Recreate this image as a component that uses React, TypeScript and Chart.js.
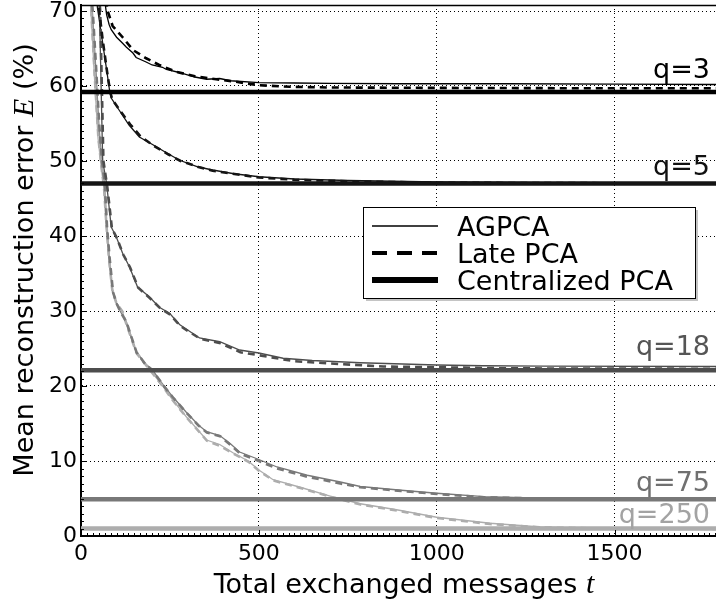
import { useEffect, useRef } from "react";
import { Chart, registerables } from "chart.js";

Chart.register(...registerables);

// ---------- data ----------
const xTickValues = [0, 500, 1000, 1500];
const yTickValues = [0, 10, 20, 30, 40, 50, 60, 70];
const X_MIN = 0;
const X_MAX = 1785;
const Y_MIN = 0;
const Y_MAX = 70.8;

const qNames = ["q=3", "q=5", "q=18", "q=75", "q=250"];
const centralizedValues = [59.2, 47.0, 22.1, 4.9, 1.0];
const legendLabels = ["AGPCA", "Late PCA", "Centralized PCA"];

const q3AgT = [65, 72, 79, 85, 100, 117, 127, 146, 155, 183, 200, 229, 240, 276, 320, 353, 390, 420, 500, 600, 700, 900, 1200, 1500, 1785];
const q3AgV = [72, 69.5, 68.2, 67.5, 66.5, 65.7, 65.2, 64.4, 63.8, 63.2, 62.8, 62.5, 62.2, 61.8, 61.2, 60.9, 61.0, 60.7, 60.45, 60.4, 60.35, 60.3, 60.3, 60.25, 60.2];
const q3LtT = [70, 75, 89, 117, 146, 183, 220, 267, 320, 380, 430, 500, 588, 700, 1000, 1400, 1785];
const q3LtV = [71.5, 70, 68, 66.5, 64.8, 63.7, 62.8, 61.9, 61.3, 60.9, 60.6, 60.1, 59.9, 59.8, 59.75, 59.7, 59.7];

const q5AgT = [44, 46, 57, 71, 80, 85, 107, 135, 164, 201, 240, 277, 330, 370, 430, 500, 600, 750, 1000, 1300, 1785];
const q5AgV = [72, 70.5, 67, 62.5, 59.5, 58.4, 56.8, 54.8, 53.2, 52.2, 51.1, 50.1, 49.2, 48.8, 48.3, 47.9, 47.6, 47.4, 47.2, 47.1, 47.05];
const q5LtT = [46, 50, 60, 73, 82, 88, 110, 138, 167, 205, 245, 280, 330, 370, 500, 600, 750, 1000, 1785];
const q5LtV = [72, 70.5, 66.5, 62, 59.2, 58.2, 56.7, 54.9, 53.3, 52, 50.9, 50, 49.2, 48.7, 47.8, 47.5, 47.3, 47.1, 47.0];

const q18AgT = [46, 52, 61, 72, 85, 99, 117, 136, 159, 192, 220, 249, 277, 333, 390, 446, 500, 568, 650, 785, 1000, 1130, 1300, 1785];
const q18AgV = [74, 70, 50, 47, 41.2, 39.9, 37.7, 35.9, 33.2, 31.9, 30.5, 29.7, 28.2, 26.4, 25.9, 24.8, 24.4, 23.7, 23.4, 23.1, 22.8, 22.7, 22.65, 22.6];
const q18LtT = [48, 54, 63, 74, 87, 101, 119, 138, 161, 194, 222, 251, 279, 335, 392, 448, 500, 600, 700, 850, 1000, 1200, 1785];
const q18LtV = [74, 70, 50, 46.5, 41, 39.7, 37.5, 35.8, 33.1, 31.7, 30.4, 29.5, 28.0, 26.3, 25.7, 24.5, 24.1, 23.3, 23.0, 22.6, 22.5, 22.35, 22.3];

const q75AgT = [25, 32, 42, 50, 58, 66, 72, 80, 89, 100, 110, 127, 155, 180, 200, 230, 257, 296, 330, 353, 390, 420, 446, 500, 551, 636, 729, 785, 900, 1000, 1133, 1300, 1785];
const q75AgV = [74, 70, 62, 55, 50, 47, 41.5, 37, 32.6, 31, 30, 28.6, 24.6, 23, 22.2, 20.2, 18.6, 16.5, 14.8, 13.9, 13.4, 12.3, 11.2, 10.2, 9.2, 8.1, 7.2, 6.6, 6.1, 5.7, 5.25, 5.05, 5.0];
const q75LtT = [26, 33, 43, 51, 59, 67, 73, 81, 90, 101, 111, 128, 156, 181, 201, 231, 258, 297, 331, 354, 391, 421, 447, 500, 551, 636, 729, 785, 900, 1000, 1133, 1300, 1785];
const q75LtV = [74, 70, 62, 55, 50, 47, 41.3, 36.8, 32.5, 30.9, 29.9, 28.5, 24.5, 22.9, 22.1, 20.1, 18.5, 16.4, 14.7, 13.8, 13.3, 12.1, 11.0, 10.0, 9.0, 7.9, 7.0, 6.5, 6.0, 5.6, 5.15, 5.0, 4.95];

const q250AgT = [20, 28, 38, 48, 56, 64, 70, 78, 87, 98, 116, 127, 155, 180, 200, 230, 257, 296, 353, 390, 427, 470, 500, 540, 616, 710, 785, 887, 1000, 1150, 1291, 1400, 1506, 1785];
const q250AgV = [75, 70, 61, 53, 49.5, 46.5, 42, 37, 33, 31.2, 30, 28.3, 24.6, 23, 21.8, 20, 18.2, 15.9, 12.8, 12.2, 11.1, 10, 8.8, 7.5, 6.5, 5.2, 4.3, 3.5, 2.5, 1.7, 1.2, 1.05, 1.0, 0.95];
const q250LtT = [21, 29, 39, 49, 57, 65, 71, 79, 88, 99, 117, 128, 156, 181, 201, 231, 258, 297, 354, 391, 428, 471, 500, 541, 617, 711, 786, 888, 1000, 1150, 1291, 1400, 1506, 1785];
const q250LtV = [75, 70, 61, 53, 49.5, 46.3, 41.8, 36.8, 32.8, 31.1, 29.9, 28.2, 24.4, 22.9, 21.7, 19.9, 18.1, 15.8, 12.7, 12.0, 11.0, 9.9, 8.7, 7.4, 6.4, 5.1, 4.2, 3.4, 2.4, 1.6, 1.15, 1.05, 1.0, 0.95];

const agpcaT = [q3AgT, q5AgT, q18AgT, q75AgT, q250AgT];
const agpcaV = [q3AgV, q5AgV, q18AgV, q75AgV, q250AgV];
const lateT = [q3LtT, q5LtT, q18LtT, q75LtT, q250LtT];
const lateV = [q3LtV, q5LtV, q18LtV, q75LtV, q250LtV];

// ---------- styles ----------
const lineColors = ["#000000", "#141414", "#4d4d4d", "#787878", "#adadad"];
const labelColors = ["#000000", "#111111", "#555555", "#707070", "#a3a3a3"];
const labelOffsets = [14, 9, 15, 8, 6];
const SANS = "'DejaVu Sans', sans-serif";
const SERIF_IT = "italic 30px 'Liberation Serif', serif";

function zip(t: number[], v: number[]) {
  return t.map((x, i) => ({ x, y: v[i] }));
}

const overlayPlugin = {
  id: "overlay",
  afterDraw(chart: any) {
    const ctx: CanvasRenderingContext2D = chart.ctx;
    const area = chart.chartArea;
    const xs = chart.scales.x;
    const ys = chart.scales.y;
    ctx.save();

    // top spine
    ctx.strokeStyle = "#000";
    ctx.lineWidth = 1.5;
    ctx.beginPath();
    ctx.moveTo(area.left, area.top + 0.5);
    ctx.lineTo(area.right, area.top + 0.5);
    ctx.stroke();

    // inward ticks
    ctx.lineWidth = 1;
    ctx.beginPath();
    for (let k = 0; k * 500 / 30 <= X_MAX; k++) {
      const px = Math.round(xs.getPixelForValue(k * 500 / 30)) + 0.5;
      const len = k % 30 === 0 ? 6 : 3;
      ctx.moveTo(px, area.bottom);
      ctx.lineTo(px, area.bottom - len);
    }
    for (let k = 0; k <= 70; k++) {
      const py = Math.round(ys.getPixelForValue(k)) + 0.5;
      const len = k % 10 === 0 ? 6 : 3;
      ctx.moveTo(area.left, py);
      ctx.lineTo(area.left + len, py);
    }
    ctx.stroke();

    // q labels
    ctx.font = `27px ${SANS}`;
    ctx.textAlign = "right";
    ctx.textBaseline = "alphabetic";
    qNames.forEach((name, i) => {
      ctx.fillStyle = labelColors[i];
      const py = ys.getPixelForValue(centralizedValues[i]) - labelOffsets[i];
      ctx.fillText(name, area.right - 6, py);
    });

    // legend
    const lx = area.left + 282;
    const ly = area.top + 202;
    const lw = 332;
    const lh = 91;
    ctx.fillStyle = "#c4c4c4";
    ctx.fillRect(lx + 3, ly + 3, lw, lh);
    ctx.fillStyle = "#ffffff";
    ctx.fillRect(lx, ly, lw, lh);
    ctx.strokeStyle = "#000";
    ctx.lineWidth = 1;
    ctx.strokeRect(lx + 0.5, ly + 0.5, lw, lh);
    const rowY = [19, 46, 73];
    const sampleW = [1.3, 4, 6];
    const sampleDash = [[], [15, 10], []];
    legendLabels.forEach((lab, i) => {
      ctx.save();
      ctx.strokeStyle = "#000";
      ctx.lineWidth = sampleW[i];
      ctx.setLineDash(sampleDash[i]);
      ctx.beginPath();
      ctx.moveTo(lx + 9, ly + rowY[i]);
      ctx.lineTo(lx + 75, ly + rowY[i]);
      ctx.stroke();
      ctx.restore();
      ctx.fillStyle = "#000";
      ctx.font = `27px ${SANS}`;
      ctx.textAlign = "left";
      ctx.textBaseline = "alphabetic";
      ctx.fillText(lab, lx + 94, ly + rowY[i] + 10);
    });

    // x axis title
    const xPart = "Total exchanged messages ";
    ctx.fillStyle = "#000";
    ctx.font = `27px ${SANS}`;
    const w1 = ctx.measureText(xPart).width;
    ctx.font = SERIF_IT;
    const w2 = ctx.measureText("t").width;
    const xStart = 404 - (w1 + w2) / 2;
    ctx.textAlign = "left";
    ctx.font = `27px ${SANS}`;
    ctx.fillText(xPart, xStart, 593);
    ctx.font = SERIF_IT;
    ctx.fillText("t", xStart + w1, 593);

    // y axis title
    const yA = "Mean reconstruction error ";
    const yB = "E";
    const yC = " (%)";
    ctx.font = `27px ${SANS}`;
    const a = ctx.measureText(yA).width;
    const c = ctx.measureText(yC).width;
    ctx.font = SERIF_IT;
    const b = ctx.measureText(yB).width;
    ctx.translate(33, 260);
    ctx.rotate(-Math.PI / 2);
    let s = -(a + b + c) / 2;
    ctx.font = `27px ${SANS}`;
    ctx.fillText(yA, s, 0);
    s += a;
    ctx.font = SERIF_IT;
    ctx.fillText(yB, s, 0);
    s += b;
    ctx.font = `27px ${SANS}`;
    ctx.fillText(yC, s, 0);

    ctx.restore();
  },
};

export default function App() {
  const ref = useRef<HTMLCanvasElement | null>(null);

  useEffect(() => {
    if (!ref.current) return;
    const datasets: any[] = [];
    qNames.forEach((name, i) => {
      datasets.push({
        label: `Centralized PCA ${name}`,
        data: [
          { x: X_MIN, y: centralizedValues[i] },
          { x: X_MAX, y: centralizedValues[i] },
        ],
        borderColor: lineColors[i],
        borderWidth: 4.5,
        pointRadius: 0,
        order: 1,
      });
      datasets.push({
        label: `Late PCA ${name}`,
        data: zip(lateT[i], lateV[i]),
        borderColor: lineColors[i],
        borderWidth: 2.6,
        borderDash: [7, 5],
        pointRadius: 0,
        order: 2,
      });
      datasets.push({
        label: `AGPCA ${name}`,
        data: zip(agpcaT[i], agpcaV[i]),
        borderColor: lineColors[i],
        borderWidth: 1.3,
        pointRadius: 0,
        order: 3,
      });
    });

    const chart = new Chart(ref.current, {
      type: "line",
      data: { datasets },
      options: {
        animation: false,
        responsive: true,
        maintainAspectRatio: false,
        layout: { padding: { top: 5, right: 0, left: 0, bottom: 0 } },
        plugins: {
          legend: { display: false },
          tooltip: { enabled: false },
        },
        scales: {
          x: {
            type: "linear",
            min: X_MIN,
            max: X_MAX,
            afterBuildTicks: (s: any) => {
              s.ticks = xTickValues.map((v) => ({ value: v }));
            },
            afterFit: (s: any) => {
              s.height = 67;
              s.paddingLeft = 0;
              s.paddingRight = 0;
            },
            ticks: {
              color: "#000",
              font: { family: SANS, size: 22 },
              padding: 5,
              maxRotation: 0,
              callback: (v: any) => String(v),
            },
            grid: { color: "#000", lineWidth: 1, drawTicks: false },
            border: { display: true, color: "#000", width: 2, dash: [1, 3] },
          },
          y: {
            type: "linear",
            min: Y_MIN,
            max: Y_MAX,
            afterBuildTicks: (s: any) => {
              s.ticks = yTickValues.map((v) => ({ value: v }));
            },
            afterFit: (s: any) => {
              s.width = 81;
              s.paddingTop = 0;
              s.paddingBottom = 0;
            },
            ticks: {
              color: "#000",
              font: { family: SANS, size: 22 },
              padding: 4,
              callback: (v: any) => String(v),
            },
            grid: { color: "#000", lineWidth: 1, drawTicks: false },
            border: { display: true, color: "#000", width: 2, dash: [1, 3] },
          },
        },
      },
      plugins: [overlayPlugin],
    });
    return () => chart.destroy();
  }, []);

  return (
    <div style={{ position: "absolute", left: 0, top: 0, width: 716, height: 603, background: "#fff" }}>
      <canvas ref={ref} />
    </div>
  );
}
